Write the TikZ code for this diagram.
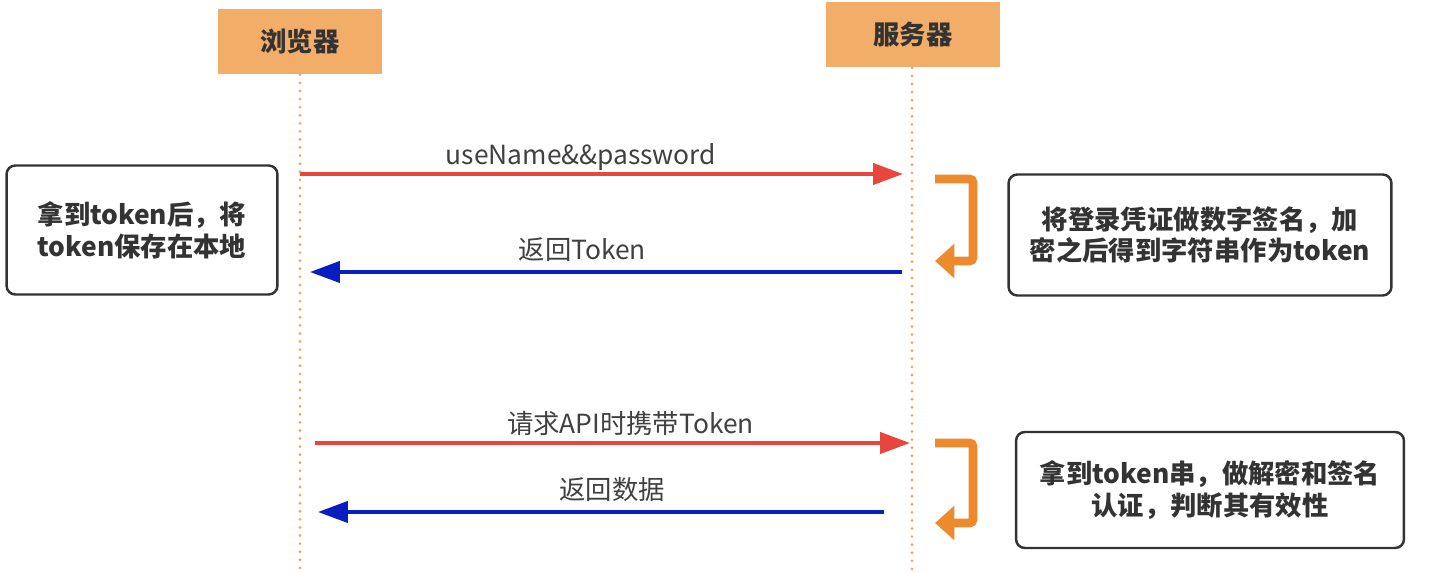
\documentclass[tikz,border=0pt]{standalone}
\usepackage{fontspec}
\setmainfont{Noto Sans CJK SC}
\usetikzlibrary{arrows.meta, positioning}
\definecolor{headfill}{HTML}{F2AE68}
\definecolor{lifeline}{HTML}{EFAA60}
\definecolor{reqred}{HTML}{E8453C}
\definecolor{respblue}{HTML}{0A1DBF}
\definecolor{loopor}{HTML}{EE8A2E}
\definecolor{notedraw}{HTML}{333333}

\begin{document}
\begin{tikzpicture}[
        x=0.02cm, y=-0.02cm,
        font=\fontsize{15}{18}\selectfont,
        head/.style={draw=none, fill=headfill, minimum width=3.3cm, minimum height=1.3cm, text=black!80, font=\fontsize{15}{18}\selectfont\bfseries},
        note/.style={draw=notedraw, line width=1.4pt, rounded corners=5pt, align=center, text=black!80, font=\fontsize{15}{18}\selectfont\bfseries},
        life/.style={lifeline, line width=1.8pt, line cap=round, dash pattern=on 0pt off 4.6pt},
        req/.style={reqred, line width=2.1pt, -{Triangle[length=17pt,width=12pt]}},
        resp/.style={respblue, line width=2.1pt, -{Triangle[length=17pt,width=12pt]}},
        selfloop/.style={loopor, line width=5pt, rounded corners=2pt, -{Triangle[length=11pt,width=19pt]}},
        lbl/.style={text=black!75, inner sep=1pt}
    ]
        \useasboundingbox (0,0) rectangle (1438,573);

        % Lifelines
        \node[head] (browser) at (300,42) {浏览器};
        \node[head, minimum width=3.48cm] (server) at (913,35) {服务器};
        \coordinate (browserend) at (300,573);
        \coordinate (serverend) at (912,573);
        \draw[life] (browser.south) -- (browserend);
        \draw[life] (server.south -| serverend) -- (serverend);

        % Message ends
        \coordinate (b1) at (300,174);  \coordinate (s1) at (903,174);
        \coordinate (s2) at (902,272);  \coordinate (b2) at (310,272);
        \coordinate (b3) at (315,443);  \coordinate (s3) at (910,443);
        \coordinate (s4) at (884,512);  \coordinate (b4) at (318,512);

        % Messages
        \draw[req] (b1) -- node[lbl, above=0pt, pos=0.466] (login) {useName\&\&password} (s1);
        \draw[resp] (s2) -- node[lbl, above=4pt, pos=0.54] (back) {返回Token} (b2);
        \draw[req] (b3) -- node[lbl, above=2pt, pos=0.53] (call) {请求API时携带Token} (s3);
        \draw[resp] (s4) -- node[lbl, above=4pt, pos=0.48] (data) {返回数据} (b4);

        % Server side processing
        \coordinate (loopa) at (935,179);
        \coordinate (loopb) at (935,443);
        \draw[selfloop] (loopa) -- ++(38,0) -- ++(0,82) -- ++(-38,0);
        \draw[selfloop] (loopb) -- ++(38,0) -- ++(0,80) -- ++(-38,0);

        % Notes
        \node[note, minimum width=5.42cm, minimum height=2.58cm] (store) at (142,230) {拿到token后，将\\token保存在本地};
        \node[note, minimum width=7.66cm, minimum height=2.42cm] (sign) at (1200,235) {将登录凭证做数字签名，加\\密之后得到字符串作为token};
        \node[note, minimum width=7.76cm, minimum height=2.32cm] (verify) at (1210,490) {拿到token串，做解密和签名\\认证，判断其有效性};
    \end{tikzpicture}
\end{document}
